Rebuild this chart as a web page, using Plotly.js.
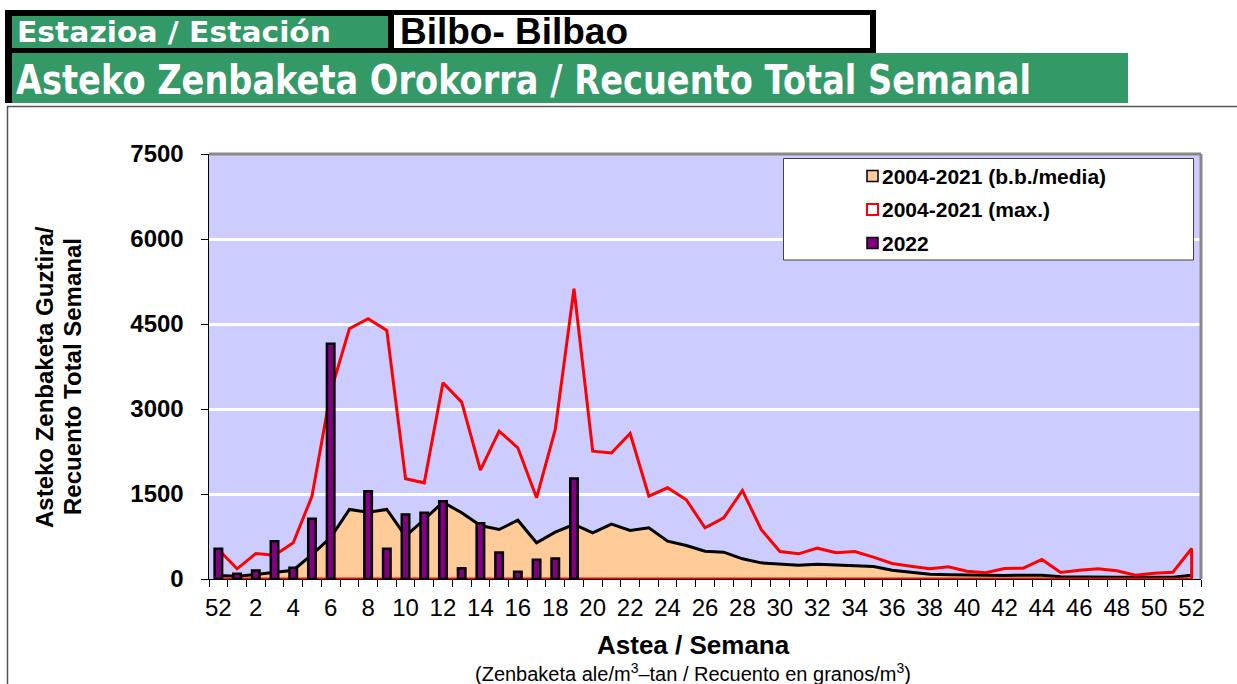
<!DOCTYPE html>
<html><head><meta charset="utf-8">
<script src="https://cdn.plot.ly/plotly-3.0.1.min.js"></script>
<style>
html,body{margin:0;padding:0;background:#fff;width:1237px;height:684px;overflow:hidden}
#hdr{position:absolute;left:0;top:0}
#chart{position:absolute;left:0;top:0;width:1237px;height:684px}
</style></head><body>
<svg id="hdr" width="1237" height="684" xmlns="http://www.w3.org/2000/svg">
  <rect x="7.5" y="106.5" width="1240" height="600" fill="#fff" stroke="#555" stroke-width="1.5"/>
  <rect x="5" y="10" width="871" height="43" fill="#000"/>
  <rect x="5" y="10" width="7" height="93" fill="#000"/>
  <rect x="12" y="16" width="376" height="32" fill="#339966"/>
  <rect x="394" y="15" width="476" height="33" fill="#fff"/>
  <rect x="12" y="53" width="1116" height="50" fill="#339966"/>
  <text x="17" y="41.5" font-family="DejaVu Sans" font-weight="bold" font-size="28" fill="#fff" textLength="314" lengthAdjust="spacingAndGlyphs">Estazioa / Estación</text>
  <text x="400" y="44.3" font-family="Liberation Sans, Arial" font-weight="bold" font-size="36" fill="#000" textLength="228" lengthAdjust="spacingAndGlyphs">Bilbo- Bilbao</text>
  <text x="16" y="94" font-family="DejaVu Sans" font-weight="bold" font-size="40" fill="#fff" textLength="1015" lengthAdjust="spacingAndGlyphs">Asteko Zenbaketa Orokorra / Recuento Total Semanal</text>
</svg>
<div id="chart"></div>
<script>
// ---- data ----
const weekLabels = [52,1,2,3,4,5,6,7,8,9,10,11,12,13,14,15,16,17,18,19,20,21,22,23,24,25,26,27,28,29,30,31,32,33,34,35,36,37,38,39,40,41,42,43,44,45,46,47,48,49,50,51,52];
const meanSeries = [60,50,79,120,155,430,730,1227,1180,1227,756,1050,1356,1168,944,874,1038,639,826,962,815,970,856,903,668,591,491,474,356,285,262,244,262,250,238,221,156,120,85,74,68,62,62,68,68,38,32,32,30,30,30,32,68];
const maxSeries = [520,180,450,420,639,1461,3300,4416,4592,4386,1768,1697,3463,3121,1921,2609,2315,1433,2639,5122,2256,2224,2568,1462,1609,1398,904,1080,1562,874,485,444,544,462,485,385,274,226,180,215,138,109,185,191,344,115,156,180,145,68,103,120,538];
const series2022 = [533,92,150,667,198,1062,4151,null,1550,533,1138,1168,1374,191,985,468,127,339,362,1774,null,null,null,null,null,null,null,null,null,null,null,null,null,null,null,null,null,null,null,null,null,null,null,null,null,null,null,null,null,null,null,null,null];
const yTicks = [0,1500,3000,4500,6000,7500];
const legendNames = ['2004-2021 (b.b./media)','2004-2021 (max.)','2022'];

// ---- geometry helpers ----
const W=1237,H=684,L=209,R=1201,T=154,B=579;
const px=x=>(x-L)/(R-L), py=y=>(B-y)/(B-T);
const FONT='Liberation Sans, Arial, sans-serif';

const idx = weekLabels.map((_,i)=>i);
const last = idx.length-1;

const traceMean = {x:idx, y:meanSeries, type:'scatter', mode:'lines', fill:'tozeroy',
  fillcolor:'#FFCC99', line:{color:'#000', width:3}, xaxis:'x', yaxis:'y', hoverinfo:'skip'};
const traceMax = {x:[idx[0]].concat(idx,[idx[last], idx[0]]), y:[0].concat(maxSeries,[0,0]),
  type:'scatter', mode:'lines', line:{color:'#FF0000', width:3}, xaxis:'x', yaxis:'y', hoverinfo:'skip'};
const traceBars = {x:idx, y:series2022, type:'bar', width:0.4,
  marker:{color:'#800080', line:{color:'#000', width:2.5}}, xaxis:'x2', yaxis:'y2', hoverinfo:'skip'};

const tickIdx = idx.filter(i=>i%2===0);
const layout = {
  width:W, height:H, margin:{l:L, r:W-R, t:T, b:H-B, pad:0},
  paper_bgcolor:'rgba(0,0,0,0)', plot_bgcolor:'#CCCCFF', showlegend:false,
  font:{family:FONT, color:'#000'},
  xaxis:{range:[-0.5,last+0.5], tickmode:'array', tickvals:idx.concat([idx.length]).map(v=>v-0.5),
    showticklabels:false, ticks:'outside', ticklen:7, tickcolor:'#000', tickwidth:1,
    showline:true, linecolor:'#000', linewidth:1, showgrid:false, zeroline:false, fixedrange:true},
  xaxis2:{overlaying:'x', side:'bottom', range:[-0.5,last+0.5], tickmode:'array', tickvals:tickIdx,
    ticktext:tickIdx.map(i=>String(weekLabels[i])), ticks:'', showline:false, showgrid:false, zeroline:false,
    tickfont:{family:FONT, size:24, color:'#000'}, ticklabelstandoff:12, fixedrange:true},
  yaxis:{range:[0,7500], tickmode:'array', tickvals:yTicks, ticktext:yTicks.map(String),
    ticks:'outside', ticklen:7, tickcolor:'#000', tickwidth:1, showline:true, linecolor:'#000', linewidth:1.5,
    gridcolor:'#FFFFFF', gridwidth:3, zeroline:false, tickfont:{family:FONT, size:24, color:'#000', weight:'bold'},
    ticklabelstandoff:12, fixedrange:true},
  yaxis2:{overlaying:'y', range:[0,7500], visible:false, fixedrange:true},
  shapes:[
    {type:'line', xref:'paper', yref:'paper', x0:0, x1:1, y0:1, y1:1, line:{color:'#888', width:3}},
    {type:'line', xref:'paper', yref:'paper', x0:1, x1:1, y0:0, y1:1, line:{color:'#888', width:3}},
    {type:'rect', xref:'paper', yref:'paper', x0:px(783.5), x1:px(1193.5), y0:py(158.5), y1:py(260), fillcolor:'#fff', line:{color:'#404040', width:1}},
    {type:'rect', xref:'paper', yref:'paper', x0:px(867), x1:px(878), y0:py(170.5), y1:py(181.5), fillcolor:'#FFCC99', line:{color:'#000', width:1.5}},
    {type:'rect', xref:'paper', yref:'paper', x0:px(867), x1:px(878), y0:py(204), y1:py(215), fillcolor:'#fff', line:{color:'#FF0000', width:2}},
    {type:'rect', xref:'paper', yref:'paper', x0:px(867), x1:px(878), y0:py(237.5), y1:py(248.5), fillcolor:'#800080', line:{color:'#000', width:1.5}}
  ],
  annotations:[
    {text:legendNames[0], xref:'paper', yref:'paper', x:px(880), y:py(176), xanchor:'left', yanchor:'middle', showarrow:false, font:{family:FONT, size:21, weight:'bold'}},
    {text:legendNames[1], xref:'paper', yref:'paper', x:px(880), y:py(209.5), xanchor:'left', yanchor:'middle', showarrow:false, font:{family:FONT, size:21, weight:'bold'}},
    {text:legendNames[2], xref:'paper', yref:'paper', x:px(880), y:py(243), xanchor:'left', yanchor:'middle', showarrow:false, font:{family:FONT, size:21, weight:'bold'}},
    {text:'Asteko Zenbaketa Guztira/', xref:'paper', yref:'paper', x:px(44), y:py(377), textangle:-90, xanchor:'center', yanchor:'middle', showarrow:false, font:{family:FONT, size:24, weight:'bold'}},
    {text:'Recuento Total Semanal', xref:'paper', yref:'paper', x:px(72), y:py(377), textangle:-90, xanchor:'center', yanchor:'middle', showarrow:false, font:{family:FONT, size:24, weight:'bold'}},
    {text:'Astea / Semana', xref:'paper', yref:'paper', x:px(693), y:py(645), xanchor:'center', yanchor:'middle', borderpad:0, showarrow:false, font:{family:FONT, size:26, weight:'bold'}},
    {text:'(Zenbaketa ale/m<sup>3</sup>–tan / Recuento en granos/m<sup>3</sup>)', xref:'paper', yref:'paper', x:px(693), y:py(672), xanchor:'center', yanchor:'middle', borderpad:0, showarrow:false, font:{family:FONT, size:20}}
  ]
};
Plotly.newPlot('chart', [traceMean, traceMax, traceBars], layout, {staticPlot:true, displayModeBar:false});
</script>
</body></html>
